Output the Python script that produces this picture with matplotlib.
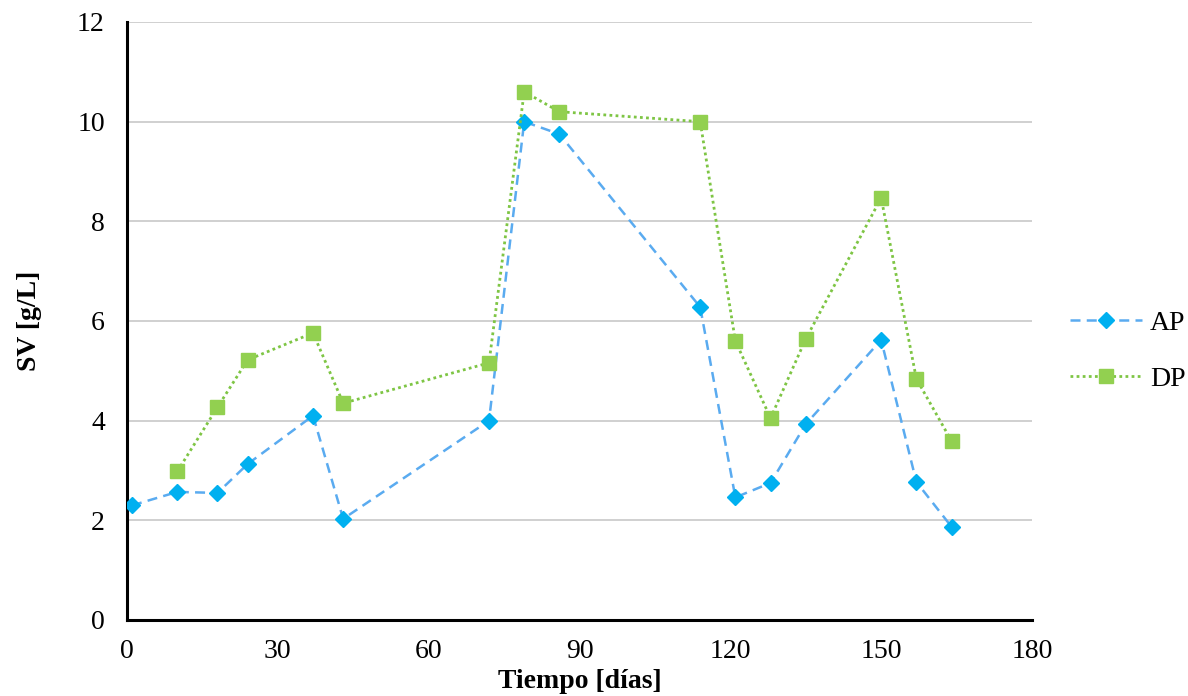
import matplotlib
matplotlib.use("Agg")
import matplotlib.pyplot as plt

plt.rcParams['font.family'] = ['Liberation Serif', 'DejaVu Serif']

# Datos
dias_ap = [1, 10, 18, 24, 37, 43, 72, 79, 86, 114, 121, 128, 135, 150, 157, 164]
sv_ap = [2.30, 2.57, 2.55, 3.13, 4.10, 2.03, 4.00, 10.0, 9.75, 6.28, 2.46, 2.75, 3.93, 5.62, 2.77, 1.87]

dias_dp = [10, 18, 24, 37, 43, 72, 79, 86, 114, 121, 128, 135, 150, 157, 164]
sv_dp = [2.98, 4.27, 5.22, 5.76, 4.35, 5.16, 10.6, 10.2, 10.0, 5.60, 4.05, 5.64, 8.47, 4.84, 3.59]

x_ticks = [0, 30, 60, 90, 120, 150, 180]
y_ticks = [0, 2, 4, 6, 8, 10, 12]

fig = plt.figure(figsize=(11.88, 6.96), dpi=100)
ax = fig.add_axes([0.1069, 0.1092, 0.7618, 0.8592])

ax.plot(dias_ap, sv_ap, linestyle=(0, (4, 2.5)), color='#5aabf0', linewidth=1.8,
        marker='D', markersize=8, markerfacecolor='#00b0f0', markeredgecolor='#00b0f0',
        label='AP', zorder=3)
ax.plot(dias_dp, sv_dp, linestyle=(0, (1, 1.2)), color='#7ec544', linewidth=2.0,
        marker='s', markersize=10, markerfacecolor='#92d050', markeredgecolor='#92d050',
        label='DP', zorder=3)

ax.set_xlim(0, 180)
ax.set_ylim(0, 12)
ax.set_xticks(x_ticks)
ax.set_yticks(y_ticks)
ax.yaxis.grid(True, color='#c8c8c8', linewidth=1.2)
ax.set_axisbelow(True)

for s in ['top', 'right']:
    ax.spines[s].set_visible(False)
for s in ['left', 'bottom']:
    ax.spines[s].set_linewidth(2.2)
    ax.spines[s].set_color('black')

ax.tick_params(axis='y', length=0, labelsize=20, pad=16)
ax.tick_params(axis='x', length=0, labelsize=20, pad=14)
ax.set_xlabel('Tiempo [días]', fontsize=20, fontweight='bold', labelpad=3)
ax.set_ylabel('SV [g/L]', fontsize=20, fontweight='bold', labelpad=25)

ax.legend(loc='center left', bbox_to_anchor=(1.017, 0.45), frameon=False,
          fontsize=20, handlelength=2.6, handletextpad=0.3, labelspacing=1.1,
          borderpad=0.3)

fig.savefig('out.png', dpi=100)
